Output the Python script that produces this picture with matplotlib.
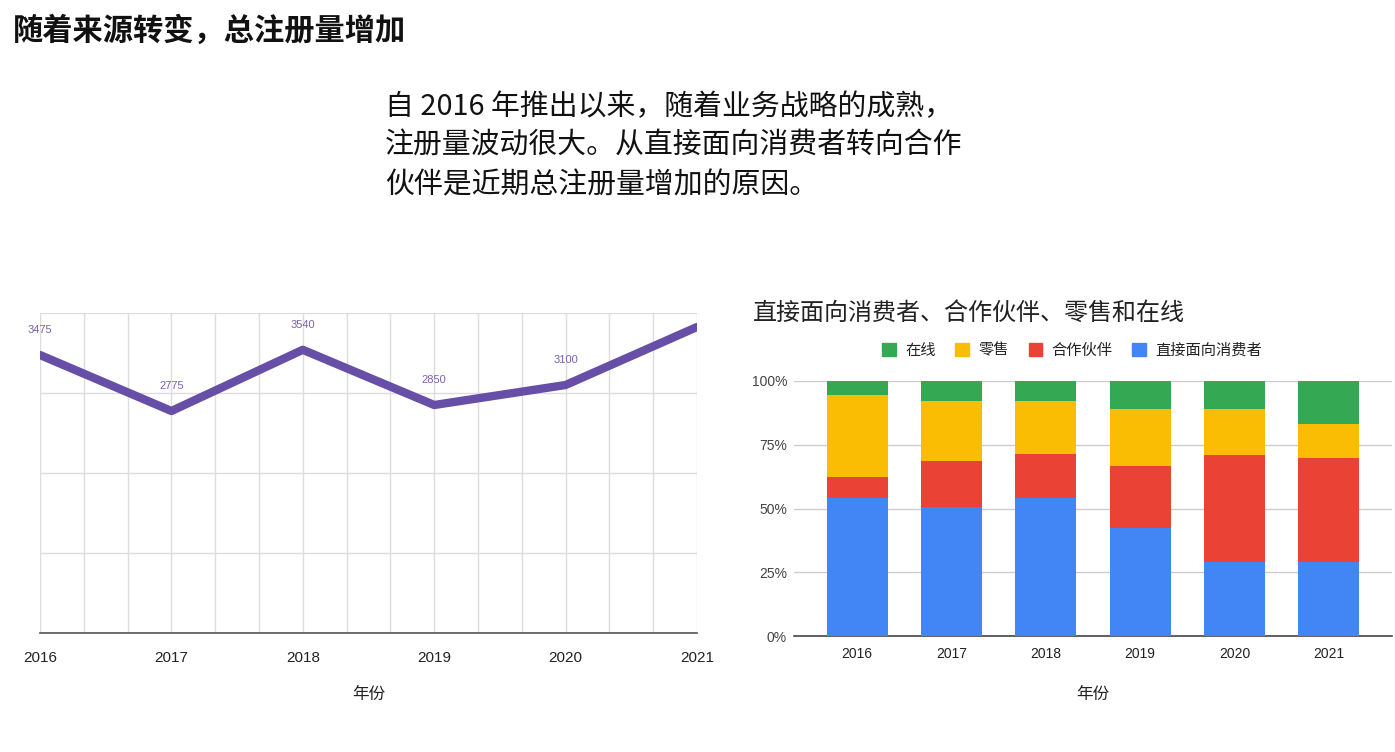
import matplotlib
matplotlib.use("Agg")
import matplotlib.pyplot as plt
from matplotlib.ticker import MultipleLocator
from matplotlib.patches import Patch
import numpy as np

plt.rcParams['font.family'] = ['Noto Sans CJK SC', 'DejaVu Sans']

# ---- data ----
years = [2016, 2017, 2018, 2019, 2020, 2021]
year_labels = ['2016', '2017', '2018', '2019', '2020', '2021']
total_reg = [3475, 2775, 3540, 2850, 3100, 3825]
shown_labels = ['3475', '2775', '3540', '2850', '3100', '']

series_names = ['直接面向消费者', '合作伙伴', '零售', '在线']
direct = [54, 50.5, 54, 42.5, 29, 29]
partner = [8.5, 18, 17.5, 24, 42, 41]
retail = [32, 23.5, 20.5, 22.5, 18, 13]
online = [5.5, 8, 8, 11, 11, 17]
series_colors = ['#4285f4', '#ea4335', '#fbbc04', '#34a853']

title = '随着来源转变，总注册量增加'
subtitle = '自 2016 年推出以来，随着业务战略的成熟，\n注册量波动很大。从直接面向消费者转向合作\n伙伴是近期总注册量增加的原因。'
right_title = '直接面向消费者、合作伙伴、零售和在线'
xlabel = '年份'

num_font = ['Liberation Sans Narrow', 'Liberation Sans', 'DejaVu Sans']
num_font2 = ['Liberation Sans', 'DejaVu Sans']

W, H = 1395, 752
fig = plt.figure(figsize=(W / 100, H / 100), dpi=100)

def fx(px):
    return px / W

def fy(py):
    return 1 - py / H

fig.text(fx(13), fy(31), title, fontsize=21.8, fontweight='bold', va='center', ha='left', color='#111111')
fig.text(fx(385), fy(92), subtitle, fontsize=20.8, va='top', ha='left', color='#111111',
         linespacing=1.39)
fig.text(fx(753), fy(313), right_title, fontsize=17.3, va='center', ha='left', color='#222222')

# ---- left line chart ----
axL = fig.add_axes([fx(40), fy(633), fx(697) - fx(40), fy(313) - fy(633)])
axL.plot(years, total_reg, color='#674ea7', lw=6, solid_capstyle='round', solid_joinstyle='round', zorder=3)
axL.set_xlim(2016, 2021)
axL.set_ylim(0, 4000)
axL.yaxis.set_major_locator(MultipleLocator(1000))
axL.set_xticks(years)
axL.set_xticklabels(year_labels, family=num_font, fontsize=11, color='#222222')
axL.xaxis.set_minor_locator(MultipleLocator(1 / 3))
axL.grid(True, which='both', color='#dddddd', lw=1)
axL.set_yticklabels([])
axL.tick_params(axis='y', length=0)
axL.tick_params(axis='x', which='both', length=0, pad=13)
for s in ['top', 'right', 'left']:
    axL.spines[s].set_visible(False)
axL.spines['bottom'].set_color('#555555')
axL.spines['bottom'].set_linewidth(1.2)
for x, y, t in zip(years, total_reg, shown_labels):
    if t:
        axL.annotate(t, (x, y), xytext=(0, 25), textcoords='offset pixels', ha='center', va='center',
                     fontsize=8, color='#7b62a8', family=num_font)
axL.set_xlabel(xlabel, fontsize=12, color='#222222', labelpad=15)
axL.set_axisbelow(True)

# ---- right stacked bar chart ----
axR = fig.add_axes([fx(794), fy(636), fx(1392) - fx(794), fy(381) - fy(636)])
x = np.arange(len(years))
bottom = np.zeros(len(years))
for vals, col in zip([direct, partner, retail, online], series_colors):
    axR.bar(x, vals, bottom=bottom, width=0.65, color=col, zorder=3)
    bottom += np.array(vals)
axR.set_xlim(-0.67, len(years) - 1 + 0.67)
axR.set_ylim(0, 100)
axR.set_yticks([0, 25, 50, 75, 100])
axR.set_yticklabels(['0%', '25%', '50%', '75%', '100%'], family=num_font2, fontsize=10, color='#444444')
axR.set_xticks(x)
axR.set_xticklabels(year_labels, family=num_font2, fontsize=10, color='#222222')
axR.tick_params(axis='y', length=0, pad=5)
axR.tick_params(axis='x', length=0, pad=8)
axR.grid(True, axis='y', color='#cccccc', lw=1)
axR.set_axisbelow(True)
for s in ['top', 'right', 'left']:
    axR.spines[s].set_visible(False)
axR.spines['bottom'].set_color('#444444')
axR.spines['bottom'].set_linewidth(1.2)
axR.set_xlabel(xlabel, fontsize=12, color='#222222', labelpad=18)

handles = [Patch(color=c) for c in series_colors[::-1]]
fig.legend(handles, series_names[::-1], loc='center', bbox_to_anchor=(fx(1072), fy(350)), ncol=4,
           frameon=False, fontsize=11, handlelength=0.9, handleheight=0.9, handletextpad=0.6,
           columnspacing=1.3, labelcolor='#222222')

fig.savefig('out.png', dpi=100)
